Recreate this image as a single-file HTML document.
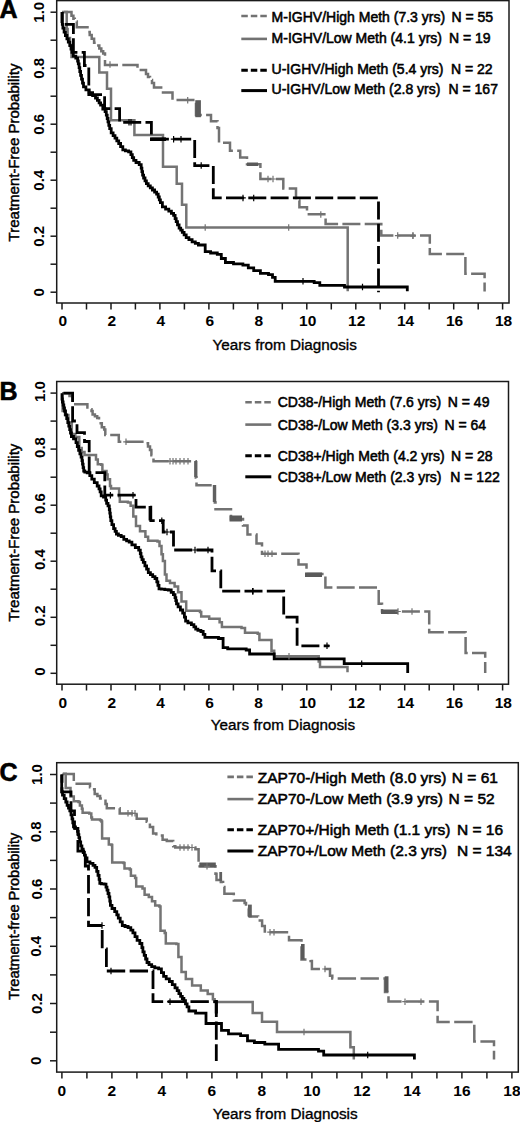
<!DOCTYPE html>
<html><head><meta charset="utf-8"><title>Kaplan-Meier</title>
<style>html,body{margin:0;padding:0;background:#fff;}svg{display:block;}</style></head>
<body><svg width="520" height="1122" viewBox="0 0 520 1122">
<rect width="520" height="1122" fill="#fff"/>
<path d="M62,12 H71.5 V15.8 H73.4 V18.7 H74.8 V21.5 H76.8 V27.3 H87.5 V32.1 H89.7 V35 H91.7 V38.8 H94.1 V42.7 H96.5 V45.6 H99.3 V48.5 H101.3 V51.3 H103.2 V53.5 H105 V65 H137.5 V70 H146 V74 H148 V77 H150 V80 H152 V83 H154 V87.5 H163 V92.5 H172.5 V100 H196 V115 H211 V121.2 H217.5 V128 H219 V142.7 H230 V150.8 H240.2 V157.5 H247 V164.2 H260.4 V179 H283.3 V188.5 H296 V200.6 H299.4 V207.3 H307 V214.2 H325.6 V224 H381.3 V235.6 H429.8 V254 H465.4 V273.7 H484.6 V291.5" fill="none" stroke="#727272" stroke-width="2.5" stroke-dasharray="18 4.3" stroke-dashoffset="20.5" stroke-linejoin="miter" stroke-linecap="butt"/>
<path d="M62,12 H66.7 V29 H67.6 V38 H70 V45 H71.5 V57.1 H99.3 V72.5 H107 V88.8 H111 V120.2 H134.4 V135 H163 V166.7 H176.7 V183.7 H182 V204.8 H186.3 V227.5 H347.7 V291.3" fill="none" stroke="#747474" stroke-width="2.5" stroke-linejoin="miter"/>
<path d="M62,12 V24.4 H73.4 V52.3 H84.4 V65.5 H88.8 V94.6 H104.6 V108.6 H119.6 V122.3 H151.4 V139.2 H194.7 V165.6 H213.3 V197.9 H378.5 V292.3" fill="none" stroke="#000" stroke-width="2.8" stroke-dasharray="18 4.3" stroke-dashoffset="6.9" stroke-linejoin="miter"/>
<path d="M62.3,11.9 H62.3 V15.0 H62.3 V18.1 H62.3 V21.3 H62.3 V24.4 H62.3 H62.9 V28.2 H64.1 V32.1 H64.7 H65.4 V35.5 H66.9 V38.8 H67.6 H68.3 V42.2 H69.8 V45.6 H70.5 H71.0 V49.0 H71.9 V52.3 H72.4 H73.3 V56.2 H74.3 H75.8 V58.1 H77.2 H77.6 V61.0 H78.3 V63.8 H78.7 H79.1 V67.7 H79.8 V71.5 H80.1 H80.6 V75.3 H81.5 V79.2 H82.0 H82.5 V83.1 H83.5 V86.9 H84.0 H85.9 V89.8 H87.8 H89.2 V92.7 H90.7 H92.6 V95.6 H94.5 H95.5 V98.0 H97.4 V100.4 H98.4 H99.1 V102.8 H100.6 V105.2 H101.3 H102.8 V109.0 H104.2 H105.1 V111.7 H105.9 H106.3 V115.1 H107.2 V118.5 H108.0 V121.9 H108.8 V125.3 H109.7 V128.7 H110.1 H111.2 V132.9 H112.2 H113.1 V135.6 H115.0 V138.2 H116.8 V140.8 H118.7 V143.5 H119.6 H120.6 V146.7 H122.8 V149.8 H123.8 H125.4 V150.9 H128.6 V151.9 H130.2 H130.9 V154.7 H132.3 V157.6 H133.7 V160.4 H134.4 H136.0 V162.5 H139.2 V164.6 H140.8 H141.2 V168.1 H141.9 V171.7 H142.6 V175.2 H142.9 H143.6 V178.0 H145.0 V180.9 H146.4 V183.7 H147.1 H148.2 V185.8 H150.3 V187.9 H152.4 V190.0 H153.5 H154.6 V192.1 H156.6 V194.2 H157.7 H158.2 V197.0 H159.3 V199.9 H160.4 V202.7 H160.9 H162.4 V206.9 H164.0 H165.6 V209.1 H168.8 V211.2 H170.4 H171.4 V213.3 H173.6 V215.4 H174.6 H175.1 V218.6 H176.2 V221.7 H176.7 H177.5 V224.9 H179.1 V228.1 H179.9 H180.7 V230.2 H182.3 V232.3 H183.1 H184.1 V234.9 H186.2 V237.6 H187.3 H188.9 V239.7 H192.1 V241.8 H193.7 H195.3 V243.4 H198.4 V245.0 H200.0  H205.2 V251.7 H210.6 V253.0 H217.3 V254.4 H221.3 V258.5 H225.4 V262.5 H233.5 V263.9 H242.9 V265.2 H248.3 V267.9 H253.7 V270.6 H260.4 V273.3 H268.5 V274.6 H272.5 V277.3 H275.2 V281.4 H314.2 V282.7 H319.8 V285.4 H344.5 V287.0 H407.3 V287.0 H407.3 V291.3" fill="none" stroke="#000" stroke-width="2.8" stroke-linejoin="miter"/>
<rect x="195.3" y="100.2" width="5.6" height="17" fill="#5a5a5a"/>
<rect x="247" y="162.5" width="11" height="3.5" fill="#5a5a5a"/>
<rect x="150" y="137.4" width="16" height="3.6" fill="#000"/>
<path d="M110.0,61.3 V67.8 M107.2,64.6 H112.8" stroke="#727272" stroke-width="1.2" fill="none"/>
<path d="M187.7,97.0 V103.5 M184.9,100.2 H190.4" stroke="#727272" stroke-width="1.2" fill="none"/>
<path d="M205.2,224.2 V230.8 M202.4,227.5 H207.9" stroke="#727272" stroke-width="1.2" fill="none"/>
<path d="M288.7,224.2 V230.8 M285.9,227.5 H291.4" stroke="#727272" stroke-width="1.2" fill="none"/>
<path d="M268.0,175.8 V182.2 M265.2,179.0 H270.8" stroke="#727272" stroke-width="1.2" fill="none"/>
<path d="M273.0,175.8 V182.2 M270.2,179.0 H275.8" stroke="#727272" stroke-width="1.2" fill="none"/>
<path d="M320.8,211.2 V217.7 M318.1,214.4 H323.6" stroke="#727272" stroke-width="1.2" fill="none"/>
<path d="M397.7,232.3 V238.8 M394.9,235.6 H400.4" stroke="#727272" stroke-width="1.2" fill="none"/>
<path d="M413.0,232.3 V238.8 M410.2,235.6 H415.8" stroke="#727272" stroke-width="1.2" fill="none"/>
<path d="M412.9,232.6 V239.1 M410.1,235.8 H415.6" stroke="#727272" stroke-width="1.2" fill="none"/>
<path d="M129.0,119.0 V125.5 M126.2,122.3 H131.8" stroke="#000" stroke-width="1.2" fill="none"/>
<path d="M131.0,119.0 V125.5 M128.2,122.3 H133.8" stroke="#000" stroke-width="1.2" fill="none"/>
<path d="M173.6,135.9 V142.4 M170.8,139.2 H176.3" stroke="#000" stroke-width="1.2" fill="none"/>
<path d="M181.0,135.9 V142.4 M178.2,139.2 H183.8" stroke="#000" stroke-width="1.2" fill="none"/>
<path d="M243.0,194.7 V201.2 M240.2,197.9 H245.8" stroke="#000" stroke-width="1.2" fill="none"/>
<path d="M253.7,194.7 V201.2 M250.9,197.9 H256.4" stroke="#000" stroke-width="1.2" fill="none"/>
<path d="M201.2,162.3 V168.8 M198.4,165.6 H203.9" stroke="#000" stroke-width="1.2" fill="none"/>
<path d="M303.0,278.1 V284.6 M300.2,281.4 H305.8" stroke="#000" stroke-width="1.2" fill="none"/>
<path d="M362.5,283.8 V290.2 M359.8,287.0 H365.2" stroke="#000" stroke-width="1.2" fill="none"/>
<rect x="56.7" y="0.6" width="452.3" height="302.4" fill="none" stroke="#1a1a1a" stroke-width="1.5"/>
<line x1="50.5" y1="292.2" x2="56.7" y2="292.2" stroke="#1a1a1a" stroke-width="1.5"/>
<line x1="50.5" y1="264.2" x2="56.7" y2="264.2" stroke="#1a1a1a" stroke-width="1.5"/>
<line x1="50.5" y1="236.2" x2="56.7" y2="236.2" stroke="#1a1a1a" stroke-width="1.5"/>
<line x1="50.5" y1="208.2" x2="56.7" y2="208.2" stroke="#1a1a1a" stroke-width="1.5"/>
<line x1="50.5" y1="180.2" x2="56.7" y2="180.2" stroke="#1a1a1a" stroke-width="1.5"/>
<line x1="50.5" y1="152.2" x2="56.7" y2="152.2" stroke="#1a1a1a" stroke-width="1.5"/>
<line x1="50.5" y1="124.2" x2="56.7" y2="124.2" stroke="#1a1a1a" stroke-width="1.5"/>
<line x1="50.5" y1="96.2" x2="56.7" y2="96.2" stroke="#1a1a1a" stroke-width="1.5"/>
<line x1="50.5" y1="68.2" x2="56.7" y2="68.2" stroke="#1a1a1a" stroke-width="1.5"/>
<line x1="50.5" y1="40.2" x2="56.7" y2="40.2" stroke="#1a1a1a" stroke-width="1.5"/>
<line x1="50.5" y1="12.2" x2="56.7" y2="12.2" stroke="#1a1a1a" stroke-width="1.5"/>
<text x="44.3" y="292.2" transform="rotate(-90 44.3 292.2)" text-anchor="middle" font-family="'Liberation Sans', sans-serif" font-weight="bold" font-size="15">0</text>
<text x="44.3" y="236.2" transform="rotate(-90 44.3 236.2)" text-anchor="middle" font-family="'Liberation Sans', sans-serif" font-weight="bold" font-size="15">0.2</text>
<text x="44.3" y="180.2" transform="rotate(-90 44.3 180.2)" text-anchor="middle" font-family="'Liberation Sans', sans-serif" font-weight="bold" font-size="15">0.4</text>
<text x="44.3" y="124.2" transform="rotate(-90 44.3 124.2)" text-anchor="middle" font-family="'Liberation Sans', sans-serif" font-weight="bold" font-size="15">0.6</text>
<text x="44.3" y="68.2" transform="rotate(-90 44.3 68.2)" text-anchor="middle" font-family="'Liberation Sans', sans-serif" font-weight="bold" font-size="15">0.8</text>
<text x="44.3" y="12.2" transform="rotate(-90 44.3 12.2)" text-anchor="middle" font-family="'Liberation Sans', sans-serif" font-weight="bold" font-size="15">1.0</text>
<line x1="62.0" y1="303" x2="62.0" y2="309.5" stroke="#1a1a1a" stroke-width="1.5"/>
<line x1="86.5" y1="303" x2="86.5" y2="309.5" stroke="#1a1a1a" stroke-width="1.5"/>
<line x1="111.0" y1="303" x2="111.0" y2="309.5" stroke="#1a1a1a" stroke-width="1.5"/>
<line x1="135.4" y1="303" x2="135.4" y2="309.5" stroke="#1a1a1a" stroke-width="1.5"/>
<line x1="159.9" y1="303" x2="159.9" y2="309.5" stroke="#1a1a1a" stroke-width="1.5"/>
<line x1="184.4" y1="303" x2="184.4" y2="309.5" stroke="#1a1a1a" stroke-width="1.5"/>
<line x1="208.9" y1="303" x2="208.9" y2="309.5" stroke="#1a1a1a" stroke-width="1.5"/>
<line x1="233.4" y1="303" x2="233.4" y2="309.5" stroke="#1a1a1a" stroke-width="1.5"/>
<line x1="257.8" y1="303" x2="257.8" y2="309.5" stroke="#1a1a1a" stroke-width="1.5"/>
<line x1="282.3" y1="303" x2="282.3" y2="309.5" stroke="#1a1a1a" stroke-width="1.5"/>
<line x1="306.8" y1="303" x2="306.8" y2="309.5" stroke="#1a1a1a" stroke-width="1.5"/>
<line x1="331.3" y1="303" x2="331.3" y2="309.5" stroke="#1a1a1a" stroke-width="1.5"/>
<line x1="355.8" y1="303" x2="355.8" y2="309.5" stroke="#1a1a1a" stroke-width="1.5"/>
<line x1="380.2" y1="303" x2="380.2" y2="309.5" stroke="#1a1a1a" stroke-width="1.5"/>
<line x1="404.7" y1="303" x2="404.7" y2="309.5" stroke="#1a1a1a" stroke-width="1.5"/>
<line x1="429.2" y1="303" x2="429.2" y2="309.5" stroke="#1a1a1a" stroke-width="1.5"/>
<line x1="453.7" y1="303" x2="453.7" y2="309.5" stroke="#1a1a1a" stroke-width="1.5"/>
<line x1="478.2" y1="303" x2="478.2" y2="309.5" stroke="#1a1a1a" stroke-width="1.5"/>
<line x1="502.6" y1="303" x2="502.6" y2="309.5" stroke="#1a1a1a" stroke-width="1.5"/>
<text x="62.9" y="326.2" text-anchor="middle" font-family="'Liberation Sans', sans-serif" font-weight="bold" font-size="15.5">0</text>
<text x="111.9" y="326.2" text-anchor="middle" font-family="'Liberation Sans', sans-serif" font-weight="bold" font-size="15.5">2</text>
<text x="160.8" y="326.2" text-anchor="middle" font-family="'Liberation Sans', sans-serif" font-weight="bold" font-size="15.5">4</text>
<text x="209.8" y="326.2" text-anchor="middle" font-family="'Liberation Sans', sans-serif" font-weight="bold" font-size="15.5">6</text>
<text x="258.7" y="326.2" text-anchor="middle" font-family="'Liberation Sans', sans-serif" font-weight="bold" font-size="15.5">8</text>
<text x="307.7" y="326.2" text-anchor="middle" font-family="'Liberation Sans', sans-serif" font-weight="bold" font-size="15.5">10</text>
<text x="356.7" y="326.2" text-anchor="middle" font-family="'Liberation Sans', sans-serif" font-weight="bold" font-size="15.5">12</text>
<text x="405.6" y="326.2" text-anchor="middle" font-family="'Liberation Sans', sans-serif" font-weight="bold" font-size="15.5">14</text>
<text x="454.6" y="326.2" text-anchor="middle" font-family="'Liberation Sans', sans-serif" font-weight="bold" font-size="15.5">16</text>
<text x="503.5" y="326.2" text-anchor="middle" font-family="'Liberation Sans', sans-serif" font-weight="bold" font-size="15.5">18</text>
<text x="284.7" y="349.6" text-anchor="middle" font-family="'Liberation Sans', sans-serif" font-size="15.25" stroke="#000" stroke-width="0.35">Years from Diagnosis</text>
<text x="18.8" y="152.5" transform="rotate(-90 18.8 152.5)" text-anchor="middle" font-family="'Liberation Sans', sans-serif" font-size="15" stroke="#000" stroke-width="0.45">Treatment-Free Probability</text>
<text x="-0.5" y="17.8" font-family="'Liberation Sans', sans-serif" font-weight="bold" font-size="25" stroke="#000" stroke-width="0.6">A</text>
<line x1="241.3" y1="16" x2="267" y2="16" stroke="#727272" stroke-width="2.6" stroke-dasharray="6.5 3"/>
<text x="271.6" y="21.7" font-family="'Liberation Sans', sans-serif" font-size="14" stroke="#000" stroke-width="0.55">M-IGHV/High Meth (7.3 yrs)</text>
<text x="451.5" y="21.7" font-family="'Liberation Sans', sans-serif" font-size="14" stroke="#000" stroke-width="0.55">N = 55</text>
<line x1="241.3" y1="38.9" x2="267" y2="38.9" stroke="#727272" stroke-width="2.6"/>
<text x="271.6" y="42.5" font-family="'Liberation Sans', sans-serif" font-size="14" stroke="#000" stroke-width="0.55">M-IGHV/Low Meth (4.1 yrs)</text>
<text x="449" y="42.5" font-family="'Liberation Sans', sans-serif" font-size="14" stroke="#000" stroke-width="0.55">N = 19</text>
<line x1="241.3" y1="70.3" x2="267" y2="70.3" stroke="#000" stroke-width="3.0" stroke-dasharray="6.5 3"/>
<text x="271.6" y="73.5" font-family="'Liberation Sans', sans-serif" font-size="14" stroke="#000" stroke-width="0.55">U-IGHV/High Meth (5.4 yrs)</text>
<text x="451" y="73.5" font-family="'Liberation Sans', sans-serif" font-size="14" stroke="#000" stroke-width="0.55">N = 22</text>
<line x1="241.3" y1="90.6" x2="267" y2="90.6" stroke="#000" stroke-width="3.0"/>
<text x="271.6" y="94" font-family="'Liberation Sans', sans-serif" font-size="14" stroke="#000" stroke-width="0.55">U-IGHV/Low Meth (2.8 yrs)</text>
<text x="448.5" y="94" font-family="'Liberation Sans', sans-serif" font-size="14" stroke="#000" stroke-width="0.55">N = 167</text>
<path d="M62,393.2 H69.5 V396 H72.5 V404.2 H87.4 V407.6 H89.2 V409.3 H91.5 V411 H92.6 V414.5 H94.9 V416.3 H97.2 V418 H99 V421.5 H100.7 V423.2 H101.8 V427.2 H104.2 V429.5 H105.3 V434.9 H118.8 V441.8 H146 V443.2 H148 V446.5 H150 V449.9 H151.4 V455.3 H153.5 V461.2 H195.8 V477.5 H196.5 V485.2 H214.8 V502.5 H215.5 V509.2 H231 V519 H243 V525.6 H247.5 V534.5 H256.5 V543.5 H262 V553.8 H298.5 V564.6 H306.5 V574 H325.4 V587.5 H378.7 V603.7 H382 V611.5 H429.2 V632.2 H465.6 V652.9 H485.2 V673.1" fill="none" stroke="#727272" stroke-width="2.5" stroke-dasharray="18 4.3" stroke-dashoffset="21.6" stroke-linejoin="miter" stroke-linecap="butt"/>
<path d="M62.0,393.2 H62.6 V395.0 H62.6 V411.0 H65.0 V415.0 H68.4 V422.6 H71.8 V434.0 H75.3 V437.0 H79.3 V448.0 H81.7 V452.0 H84.5 V455.0 H94.9 V455.0 H96.0 V459.5 H97.8 V464.2 H101.3 V464.7 H102.4 V471.0 H106.5 V474.5 H107.6 V479.2 H110.0 V486.0 H111.0 V488.4 H118.8 V488.4 H119.1 V496.3 H119.8 V501.7 H127.9 V502.4 H130.6 V505.8 H133.3 V516.5 H136.0 V526.0 H140.0 V531.3 H145.4 V536.7 H148.1 V540.7 H157.5 V541.4 H159.5 V546.1 H161.5 V554.2 H162.9 V561.0 H164.9 V574.4 H166.5 V580.8 H170.0 V583.1 H174.6 V586.5 H178.1 V592.3 H181.5 V601.5 H186.2 V610.8 H200.0 V611.9 H201.2 V616.5 H209.2 V618.8 H219.6 V622.3 H221.9 V626.9 H241.5 V628.1 H245.0 V632.7 H257.7 V633.8 H259.4 V640.0 H271.5 V650.8 H274.2 V656.2 H318.7 V661.5 H320.0 V667.0 H347.5 V667.0 H347.5 V672.3" fill="none" stroke="#747474" stroke-width="2.5" stroke-linejoin="miter"/>
<path d="M62,393.2 H72.6 V421 H77 V432.6 H84.5 V441.5 H89.2 V472.6 H104.8 V495.2 H136 V507.2 H150.8 V520.6 H163.2 V532 H173.5 V550 H212 V570.8 H220.8 V591.2 H283.7 V617.1 H297.1 V645.8 H329.4" fill="none" stroke="#000" stroke-width="2.8" stroke-dasharray="18 4.3" stroke-dashoffset="20.9" stroke-linejoin="miter"/>
<path d="M62.0,393.2 H62.0 V396.1 H62.0 V399.0 H62.0 H62.4 V402.0 H63.1 V405.0 H63.8 V408.0 H64.5 V411.0 H64.9 H65.5 V414.9 H66.7 V418.7 H67.8 V422.6 H68.4 H68.8 V426.1 H69.7 V429.6 H70.5 V433.0 H71.4 V436.5 H71.8 H73.5 V438.8 H75.3 H76.0 V442.6 H77.3 V446.5 H78.6 V450.3 H79.3 H79.9 V453.8 H81.1 V457.2 H81.7 H82.0 V460.7 H82.5 V464.2 H82.8 H83.1 V467.6 H83.7 V471.0 H84.0 H84.8 V472.2 H85.7 H87.2 V472.8 H88.6 H89.8 V475.7 H90.9 H91.8 V479.2 H92.6 H94.3 V482.6 H96.1 H97.2 V486.0 H98.4 H99.0 V488.9 H100.1 V491.8 H100.7 H101.2 V495.9 H101.8 H103.5 V497.0 H105.3 H105.7 V500.2 H106.6 V503.4 H107.0 H108.0 V505.8 H109.0 H109.3 V509.5 H109.8 V513.2 H110.3 V516.9 H110.8 V520.6 H111.1 H111.9 V524.6 H113.6 V528.6 H114.4 H115.1 V531.3 H116.4 V534.0 H117.1 H118.4 V535.4 H121.2 V536.7 H122.5 H123.8 V539.4 H125.2 H126.6 V540.8 H129.2 V542.1 H130.6 H131.9 V544.8 H133.3 H135.3 V547.5 H137.3 H138.7 V550.2 H140.0 H140.3 V553.5 H141.0 V556.9 H141.3 H142.0 V559.6 H143.3 V562.3 H144.0 H144.9 V565.8 H146.6 V569.2 H148.3 V572.7 H149.2 H150.4 V574.6 H152.7 V576.6 H155.0 V578.5 H156.2 H156.8 V581.9 H157.9 V585.4 H159.0 V588.8 H159.6 H161.3 V589.2 H164.8 V589.6 H168.3 V590.0 H170.0 H171.2 V592.3 H173.4 V594.6 H174.6 H175.0 V597.7 H175.8 V600.7 H176.5 V603.8 H176.9 H178.1 V606.9 H180.4 V610.0 H182.7 V613.1 H183.8 H184.4 V617.2 H185.6 V621.2 H186.2 H187.9 V622.9 H191.4 V624.6 H193.1 H193.9 V626.9 H195.7 V629.2 H196.5 H197.9 V630.4 H200.9 V631.5 H202.3 H203.2 V634.4 H204.9 V637.3 H205.8 H218.5 V638.5 H223.1 V647.7 H227.7 V648.8 H246.2 V650.0 H249.6 V654.0 H274.2 V658.9 H344.2 V663.7 H407.7 V663.7 H407.7 V673.1" fill="none" stroke="#000" stroke-width="2.8" stroke-linejoin="miter"/>
<rect x="148.6" y="506" width="3" height="14.5" fill="#000"/>
<rect x="229.5" y="515.5" width="12.5" height="6" fill="#5a5a5a"/>
<rect x="305" y="572.5" width="17" height="4.5" fill="#5a5a5a"/>
<rect x="381" y="609.5" width="17" height="4.5" fill="#5a5a5a"/>
<rect x="194.2" y="461" width="3.2" height="16" fill="#606060"/>
<rect x="212.8" y="485" width="3.4" height="17" fill="#606060"/>
<path d="M289.0,653.0 V659.5 M286.2,656.2 H291.8" stroke="#727272" stroke-width="1.2" fill="none"/>
<path d="M126.0,438.6 V445.1 M123.2,441.8 H128.8" stroke="#727272" stroke-width="1.2" fill="none"/>
<path d="M170.0,457.9 V464.4 M167.2,461.2 H172.8" stroke="#727272" stroke-width="1.2" fill="none"/>
<path d="M176.0,457.9 V464.4 M173.2,461.2 H178.8" stroke="#727272" stroke-width="1.2" fill="none"/>
<path d="M180.0,457.9 V464.4 M177.2,461.2 H182.8" stroke="#727272" stroke-width="1.2" fill="none"/>
<path d="M184.0,457.9 V464.4 M181.2,461.2 H186.8" stroke="#727272" stroke-width="1.2" fill="none"/>
<path d="M188.0,457.9 V464.4 M185.2,461.2 H190.8" stroke="#727272" stroke-width="1.2" fill="none"/>
<path d="M265.0,550.5 V557.0 M262.2,553.8 H267.8" stroke="#727272" stroke-width="1.2" fill="none"/>
<path d="M268.0,550.5 V557.0 M265.2,553.8 H270.8" stroke="#727272" stroke-width="1.2" fill="none"/>
<path d="M272.0,550.5 V557.0 M269.2,553.8 H274.8" stroke="#727272" stroke-width="1.2" fill="none"/>
<path d="M398.0,608.2 V614.8 M395.2,611.5 H400.8" stroke="#727272" stroke-width="1.2" fill="none"/>
<path d="M412.0,608.2 V614.8 M409.2,611.5 H414.8" stroke="#727272" stroke-width="1.2" fill="none"/>
<path d="M173.0,457.9 V464.4 M170.2,461.2 H175.8" stroke="#727272" stroke-width="1.2" fill="none"/>
<path d="M161.8,517.4 V523.9 M159.1,520.6 H164.6" stroke="#000" stroke-width="1.2" fill="none"/>
<path d="M167.0,528.8 V535.2 M164.2,532.0 H169.8" stroke="#000" stroke-width="1.2" fill="none"/>
<path d="M110.4,491.9 V498.4 M107.7,495.2 H113.2" stroke="#000" stroke-width="1.2" fill="none"/>
<path d="M133.0,491.9 V498.4 M130.2,495.2 H135.8" stroke="#000" stroke-width="1.2" fill="none"/>
<path d="M195.0,546.8 V553.2 M192.2,550.0 H197.8" stroke="#000" stroke-width="1.2" fill="none"/>
<path d="M208.0,546.8 V553.2 M205.2,550.0 H210.8" stroke="#000" stroke-width="1.2" fill="none"/>
<path d="M253.0,588.0 V594.5 M250.2,591.2 H255.8" stroke="#000" stroke-width="1.2" fill="none"/>
<path d="M252.6,588.0 V594.5 M249.8,591.2 H255.3" stroke="#000" stroke-width="1.2" fill="none"/>
<path d="M327.0,642.5 V649.0 M324.2,645.8 H329.8" stroke="#000" stroke-width="1.2" fill="none"/>
<path d="M361.7,660.5 V667.0 M358.9,663.7 H364.4" stroke="#000" stroke-width="1.2" fill="none"/>
<rect x="56.7" y="381.5" width="451.8" height="302.70000000000005" fill="none" stroke="#1a1a1a" stroke-width="1.5"/>
<line x1="50.5" y1="673.3" x2="56.7" y2="673.3" stroke="#1a1a1a" stroke-width="1.5"/>
<line x1="50.5" y1="645.3" x2="56.7" y2="645.3" stroke="#1a1a1a" stroke-width="1.5"/>
<line x1="50.5" y1="617.3" x2="56.7" y2="617.3" stroke="#1a1a1a" stroke-width="1.5"/>
<line x1="50.5" y1="589.2" x2="56.7" y2="589.2" stroke="#1a1a1a" stroke-width="1.5"/>
<line x1="50.5" y1="561.2" x2="56.7" y2="561.2" stroke="#1a1a1a" stroke-width="1.5"/>
<line x1="50.5" y1="533.2" x2="56.7" y2="533.2" stroke="#1a1a1a" stroke-width="1.5"/>
<line x1="50.5" y1="505.2" x2="56.7" y2="505.2" stroke="#1a1a1a" stroke-width="1.5"/>
<line x1="50.5" y1="477.2" x2="56.7" y2="477.2" stroke="#1a1a1a" stroke-width="1.5"/>
<line x1="50.5" y1="449.1" x2="56.7" y2="449.1" stroke="#1a1a1a" stroke-width="1.5"/>
<line x1="50.5" y1="421.1" x2="56.7" y2="421.1" stroke="#1a1a1a" stroke-width="1.5"/>
<line x1="50.5" y1="393.1" x2="56.7" y2="393.1" stroke="#1a1a1a" stroke-width="1.5"/>
<text x="45.0" y="671.7" transform="rotate(-90 45.0 671.7)" text-anchor="middle" font-family="'Liberation Sans', sans-serif" font-weight="bold" font-size="15">0</text>
<text x="45.0" y="615.7" transform="rotate(-90 45.0 615.7)" text-anchor="middle" font-family="'Liberation Sans', sans-serif" font-weight="bold" font-size="15">0.2</text>
<text x="45.0" y="559.6" transform="rotate(-90 45.0 559.6)" text-anchor="middle" font-family="'Liberation Sans', sans-serif" font-weight="bold" font-size="15">0.4</text>
<text x="45.0" y="503.6" transform="rotate(-90 45.0 503.6)" text-anchor="middle" font-family="'Liberation Sans', sans-serif" font-weight="bold" font-size="15">0.6</text>
<text x="45.0" y="447.5" transform="rotate(-90 45.0 447.5)" text-anchor="middle" font-family="'Liberation Sans', sans-serif" font-weight="bold" font-size="15">0.8</text>
<text x="45.0" y="391.5" transform="rotate(-90 45.0 391.5)" text-anchor="middle" font-family="'Liberation Sans', sans-serif" font-weight="bold" font-size="15">1.0</text>
<line x1="62.0" y1="684.2" x2="62.0" y2="690.5" stroke="#1a1a1a" stroke-width="1.5"/>
<line x1="86.5" y1="684.2" x2="86.5" y2="690.5" stroke="#1a1a1a" stroke-width="1.5"/>
<line x1="111.0" y1="684.2" x2="111.0" y2="690.5" stroke="#1a1a1a" stroke-width="1.5"/>
<line x1="135.4" y1="684.2" x2="135.4" y2="690.5" stroke="#1a1a1a" stroke-width="1.5"/>
<line x1="159.9" y1="684.2" x2="159.9" y2="690.5" stroke="#1a1a1a" stroke-width="1.5"/>
<line x1="184.4" y1="684.2" x2="184.4" y2="690.5" stroke="#1a1a1a" stroke-width="1.5"/>
<line x1="208.9" y1="684.2" x2="208.9" y2="690.5" stroke="#1a1a1a" stroke-width="1.5"/>
<line x1="233.4" y1="684.2" x2="233.4" y2="690.5" stroke="#1a1a1a" stroke-width="1.5"/>
<line x1="257.8" y1="684.2" x2="257.8" y2="690.5" stroke="#1a1a1a" stroke-width="1.5"/>
<line x1="282.3" y1="684.2" x2="282.3" y2="690.5" stroke="#1a1a1a" stroke-width="1.5"/>
<line x1="306.8" y1="684.2" x2="306.8" y2="690.5" stroke="#1a1a1a" stroke-width="1.5"/>
<line x1="331.3" y1="684.2" x2="331.3" y2="690.5" stroke="#1a1a1a" stroke-width="1.5"/>
<line x1="355.8" y1="684.2" x2="355.8" y2="690.5" stroke="#1a1a1a" stroke-width="1.5"/>
<line x1="380.2" y1="684.2" x2="380.2" y2="690.5" stroke="#1a1a1a" stroke-width="1.5"/>
<line x1="404.7" y1="684.2" x2="404.7" y2="690.5" stroke="#1a1a1a" stroke-width="1.5"/>
<line x1="429.2" y1="684.2" x2="429.2" y2="690.5" stroke="#1a1a1a" stroke-width="1.5"/>
<line x1="453.7" y1="684.2" x2="453.7" y2="690.5" stroke="#1a1a1a" stroke-width="1.5"/>
<line x1="478.2" y1="684.2" x2="478.2" y2="690.5" stroke="#1a1a1a" stroke-width="1.5"/>
<line x1="502.6" y1="684.2" x2="502.6" y2="690.5" stroke="#1a1a1a" stroke-width="1.5"/>
<text x="62.7" y="707.6" text-anchor="middle" font-family="'Liberation Sans', sans-serif" font-weight="bold" font-size="15.5">0</text>
<text x="111.7" y="707.6" text-anchor="middle" font-family="'Liberation Sans', sans-serif" font-weight="bold" font-size="15.5">2</text>
<text x="160.6" y="707.6" text-anchor="middle" font-family="'Liberation Sans', sans-serif" font-weight="bold" font-size="15.5">4</text>
<text x="209.6" y="707.6" text-anchor="middle" font-family="'Liberation Sans', sans-serif" font-weight="bold" font-size="15.5">6</text>
<text x="258.5" y="707.6" text-anchor="middle" font-family="'Liberation Sans', sans-serif" font-weight="bold" font-size="15.5">8</text>
<text x="307.5" y="707.6" text-anchor="middle" font-family="'Liberation Sans', sans-serif" font-weight="bold" font-size="15.5">10</text>
<text x="356.5" y="707.6" text-anchor="middle" font-family="'Liberation Sans', sans-serif" font-weight="bold" font-size="15.5">12</text>
<text x="405.4" y="707.6" text-anchor="middle" font-family="'Liberation Sans', sans-serif" font-weight="bold" font-size="15.5">14</text>
<text x="454.4" y="707.6" text-anchor="middle" font-family="'Liberation Sans', sans-serif" font-weight="bold" font-size="15.5">16</text>
<text x="503.3" y="707.6" text-anchor="middle" font-family="'Liberation Sans', sans-serif" font-weight="bold" font-size="15.5">18</text>
<text x="282.9" y="729.5" text-anchor="middle" font-family="'Liberation Sans', sans-serif" font-size="15.25" stroke="#000" stroke-width="0.35">Years from Diagnosis</text>
<text x="18.8" y="532.6" transform="rotate(-90 18.8 532.6)" text-anchor="middle" font-family="'Liberation Sans', sans-serif" font-size="15" stroke="#000" stroke-width="0.45">Treatment-Free Probability</text>
<text x="-0.5" y="399.6" font-family="'Liberation Sans', sans-serif" font-weight="bold" font-size="25" stroke="#000" stroke-width="0.6">B</text>
<line x1="245.3" y1="402.3" x2="271.3" y2="402.3" stroke="#727272" stroke-width="2.6" stroke-dasharray="6.5 3"/>
<text x="277.7" y="406.8" font-family="'Liberation Sans', sans-serif" font-size="14" stroke="#000" stroke-width="0.55">CD38-/High Meth (7.6 yrs)</text>
<text x="447.8" y="406.8" font-family="'Liberation Sans', sans-serif" font-size="14" stroke="#000" stroke-width="0.55">N = 49</text>
<line x1="245.3" y1="424.6" x2="271.3" y2="424.6" stroke="#727272" stroke-width="2.6"/>
<text x="277.7" y="429.6" font-family="'Liberation Sans', sans-serif" font-size="14" stroke="#000" stroke-width="0.55">CD38-/Low Meth (3.3 yrs)</text>
<text x="444.5" y="429.6" font-family="'Liberation Sans', sans-serif" font-size="14" stroke="#000" stroke-width="0.55">N = 64</text>
<line x1="245.3" y1="455.8" x2="271.3" y2="455.8" stroke="#000" stroke-width="3.0" stroke-dasharray="6.5 3"/>
<text x="277.7" y="460.7" font-family="'Liberation Sans', sans-serif" font-size="14" stroke="#000" stroke-width="0.55">CD38+/High Meth (4.2 yrs)</text>
<text x="451" y="460.7" font-family="'Liberation Sans', sans-serif" font-size="14" stroke="#000" stroke-width="0.55">N = 28</text>
<line x1="245.3" y1="476.8" x2="271.3" y2="476.8" stroke="#000" stroke-width="3.0"/>
<text x="277.7" y="481.6" font-family="'Liberation Sans', sans-serif" font-size="14" stroke="#000" stroke-width="0.55">CD38+/Low Meth (2.3 yrs)</text>
<text x="450.3" y="481.6" font-family="'Liberation Sans', sans-serif" font-size="14" stroke="#000" stroke-width="0.55">N = 122</text>
<path d="M62.4,774 H73.8 V783.8 H90 V787.2 H92.7 V789.2 H94.7 V793.9 H97.4 V796 H100.1 V798.6 H102.8 V800.7 H105.5 V804 H106.8 V808.3 H119.7 V813.4 H136.7 V818.7 H146.7 V821.8 H149.9 V827.1 H153.1 V833.5 H156.3 V835.6 H162.6 V839.8 H166.8 V840.9 H173.2 V846.2 H175.3 V847.5 H195.4 V849.3 H198.6 V862 H199.6 V866.3 H215.5 V873.7 H216.5 V880 H220.8 V882.1 H223.1 V886.9 H224.4 V893.7 H233.8 V900.4 H244.6 V903.1 H246 V908.5 H248.7 V915.2 H250 V916.5 H258.1 V920.6 H262.1 V926 H264.8 V931.4 H266.2 V932.2 H289 V940.2 H301.5 V959.6 H310.6 V961 H311.9 V969 H330 V975.8 H332.3 V978.6 H385 V991.9 H388.5 V1001.6 H437.6 V1022 H474.3 V1041.5 H494 V1059.4" fill="none" stroke="#727272" stroke-width="2.5" stroke-dasharray="18.4 4.45" stroke-dashoffset="0" stroke-linejoin="miter" stroke-linecap="butt"/>
<path d="M63.0,773.7 H65.7 V788.0 H70.5 V796.6 H73.8 V801.3 H78.5 V802.0 H79.9 V805.4 H81.9 V808.7 H82.6 V812.8 H89.3 V813.5 H91.3 V817.5 H92.0 V819.5 H100.1 V820.2 H101.4 V821.5 H102.1 V838.4 H108.1 V838.4 H108.8 V844.4 H111.5 V845.1 H112.2 V862.6 H123.5 V863.1 H124.5 V868.4 H129.8 V869.4 H130.9 V875.8 H135.1 V877.9 H136.2 V886.4 H142.5 V888.5 H144.6 V894.8 H148.8 V896.9 H152.0 V901.2 H155.2 V905.4 H159.4 V906.5 H160.5 V930.8 H164.7 V932.9 H165.8 V943.5 H176.4 V944.0 H178.4 V957.0 H181.5 V972.0 H185.8 V979.0 H192.1 V985.4 H200.8 V990.6 H207.7 V994.0 H212.9 V999.2 H214.6 V1002.0 H252.7 V1013.0 H262.0 V1021.7 H277.0 V1032.1 H350.4 V1047.3 H353.8 V1059.4" fill="none" stroke="#747474" stroke-width="2.5" stroke-linejoin="miter"/>
<path d="M62,774.4 V791.9 H71 V810.8 H74.5 V828.3 H77.9 V851.1 H85.3 V866 H88.5 V925.5 H102.2 V948.8 H106.4 V971 H153 V1001.6 H216.3 V1061" fill="none" stroke="#000" stroke-width="2.8" stroke-dasharray="18.4 4.45" stroke-dashoffset="9.95" stroke-linejoin="miter"/>
<path d="M61.7,774.4 H61.7 V777.9 H61.7 V781.4 H61.7 V784.9 H61.7 V788.4 H61.7 V791.9 H61.7 H62.5 V795.2 H64.2 V798.6 H65.1 H65.8 V802.0 H67.1 V805.4 H67.8 H68.5 V808.1 H69.8 V810.8 H70.5 H71.0 V814.8 H72.0 V818.8 H72.5 H72.8 V822.8 H73.5 V826.9 H73.8 H75.5 V828.3 H77.2 H77.5 V831.4 H78.2 V834.6 H78.9 V837.7 H79.2 H79.7 V841.8 H80.7 V845.8 H81.2 H81.9 V849.1 H83.2 V852.5 H83.9 H84.4 V855.2 H85.4 V857.9 H85.9 H87.0 V861.9 H88.0 H90.0 V863.3 H92.0 H93.0 V865.3 H95.0 V867.3 H96.0 H96.7 V871.3 H98.0 V875.4 H98.7 H99.1 V879.4 H99.8 V883.4 H100.1 H101.4 V883.8 H104.2 V884.1 H105.5 H106.0 V887.2 H107.0 V890.2 H107.5 H108.0 V893.5 H109.0 V896.9 H109.5 H109.8 V901.1 H110.4 V905.4 H110.7 H112.0 V908.5 H114.7 V911.7 H116.0 H116.8 V914.9 H118.3 V918.1 H119.1 H120.2 V921.8 H122.3 V925.5 H123.4 H125.0 V926.5 H128.1 V927.6 H129.7 H130.8 V930.2 H132.9 V932.9 H133.9 H135.0 V936.6 H137.1 V940.3 H138.2 H139.8 V943.5 H141.3 H141.9 V947.7 H142.9 V951.9 H143.5 H144.2 V955.4 H145.6 V959.0 H147.0 V962.5 H147.7 H149.0 V964.6 H151.7 V966.7 H153.0 H154.8 V967.8 H158.6 V968.9 H160.4 H161.4 V972.6 H163.6 V976.3 H164.6 H166.2 V978.9 H169.4 V981.5 H171.0 H172.3 V984.7 H175.0 V987.9 H176.3 H177.2 V990.7 H178.9 V993.6 H180.6 V996.4 H181.5 H182.3 V998.5 H183.9 V1000.6 H184.7 H185.5 V1003.8 H187.1 V1006.9 H187.9 H188.9 V1011.0 H190.0 H195.6 V1013.1 H206.0 V1023.5 H218.1 V1023.5 H221.5 V1030.4 H228.5 V1033.8 H240.6 V1035.6 H247.5 V1040.8 H254.4 V1042.5 H264.8 V1044.2 H278.6 V1049.4 H318.5 V1051.2 H323.7 V1055.0 H414.4 V1055.0 H414.4 V1059.4" fill="none" stroke="#000" stroke-width="2.8" stroke-linejoin="miter"/>
<rect x="199.3" y="862.5" width="16.5" height="5" fill="#5a5a5a"/>
<rect x="301" y="944" width="3.6" height="15.6" fill="#5a5a5a"/>
<rect x="384.7" y="976.3" width="3.8" height="15.6" fill="#5a5a5a"/>
<rect x="248" y="904.6" width="3.8" height="12.7" fill="#606060"/>
<rect x="219.3" y="872" width="2.8" height="9" fill="#606060"/>
<rect x="214.8" y="1000" width="3" height="13.5" fill="#000"/>
<path d="M128.0,810.1 V816.6 M125.2,813.4 H130.8" stroke="#727272" stroke-width="1.2" fill="none"/>
<path d="M132.0,810.1 V816.6 M129.2,813.4 H134.8" stroke="#727272" stroke-width="1.2" fill="none"/>
<path d="M135.0,810.1 V816.6 M132.2,813.4 H137.8" stroke="#727272" stroke-width="1.2" fill="none"/>
<path d="M180.0,844.2 V850.8 M177.2,847.5 H182.8" stroke="#727272" stroke-width="1.2" fill="none"/>
<path d="M184.0,844.2 V850.8 M181.2,847.5 H186.8" stroke="#727272" stroke-width="1.2" fill="none"/>
<path d="M188.0,844.2 V850.8 M185.2,847.5 H190.8" stroke="#727272" stroke-width="1.2" fill="none"/>
<path d="M192.0,844.2 V850.8 M189.2,847.5 H194.8" stroke="#727272" stroke-width="1.2" fill="none"/>
<path d="M270.0,929.0 V935.5 M267.2,932.2 H272.8" stroke="#727272" stroke-width="1.2" fill="none"/>
<path d="M274.0,929.0 V935.5 M271.2,932.2 H276.8" stroke="#727272" stroke-width="1.2" fill="none"/>
<path d="M405.0,998.4 V1004.9 M402.2,1001.6 H407.8" stroke="#727272" stroke-width="1.2" fill="none"/>
<path d="M421.0,998.4 V1004.9 M418.2,1001.6 H423.8" stroke="#727272" stroke-width="1.2" fill="none"/>
<path d="M325.0,965.8 V972.2 M322.2,969.0 H327.8" stroke="#727272" stroke-width="1.2" fill="none"/>
<path d="M304.0,1028.8 V1035.3 M301.2,1032.1 H306.8" stroke="#727272" stroke-width="1.2" fill="none"/>
<path d="M207.0,863.0 V869.5 M204.2,866.3 H209.8" stroke="#727272" stroke-width="1.2" fill="none"/>
<path d="M102.0,922.2 V928.8 M99.2,925.5 H104.8" stroke="#000" stroke-width="1.2" fill="none"/>
<path d="M111.0,967.8 V974.2 M108.2,971.0 H113.8" stroke="#000" stroke-width="1.2" fill="none"/>
<path d="M170.0,998.4 V1004.9 M167.2,1001.6 H172.8" stroke="#000" stroke-width="1.2" fill="none"/>
<path d="M367.7,1051.8 V1058.2 M364.9,1055.0 H370.4" stroke="#000" stroke-width="1.2" fill="none"/>
<rect x="56.7" y="762.7" width="461.59999999999997" height="309.39999999999986" fill="none" stroke="#1a1a1a" stroke-width="1.5"/>
<line x1="50" y1="1060.8" x2="56.7" y2="1060.8" stroke="#1a1a1a" stroke-width="1.5"/>
<line x1="50" y1="1032.2" x2="56.7" y2="1032.2" stroke="#1a1a1a" stroke-width="1.5"/>
<line x1="50" y1="1003.5" x2="56.7" y2="1003.5" stroke="#1a1a1a" stroke-width="1.5"/>
<line x1="50" y1="974.9" x2="56.7" y2="974.9" stroke="#1a1a1a" stroke-width="1.5"/>
<line x1="50" y1="946.3" x2="56.7" y2="946.3" stroke="#1a1a1a" stroke-width="1.5"/>
<line x1="50" y1="917.6" x2="56.7" y2="917.6" stroke="#1a1a1a" stroke-width="1.5"/>
<line x1="50" y1="889.0" x2="56.7" y2="889.0" stroke="#1a1a1a" stroke-width="1.5"/>
<line x1="50" y1="860.4" x2="56.7" y2="860.4" stroke="#1a1a1a" stroke-width="1.5"/>
<line x1="50" y1="831.8" x2="56.7" y2="831.8" stroke="#1a1a1a" stroke-width="1.5"/>
<line x1="50" y1="803.1" x2="56.7" y2="803.1" stroke="#1a1a1a" stroke-width="1.5"/>
<line x1="50" y1="774.5" x2="56.7" y2="774.5" stroke="#1a1a1a" stroke-width="1.5"/>
<text x="41.5" y="1060.8" transform="rotate(-90 41.5 1060.8)" text-anchor="middle" font-family="'Liberation Sans', sans-serif" font-weight="bold" font-size="15">0</text>
<text x="41.5" y="1003.5" transform="rotate(-90 41.5 1003.5)" text-anchor="middle" font-family="'Liberation Sans', sans-serif" font-weight="bold" font-size="15">0.2</text>
<text x="41.5" y="946.3" transform="rotate(-90 41.5 946.3)" text-anchor="middle" font-family="'Liberation Sans', sans-serif" font-weight="bold" font-size="15">0.4</text>
<text x="41.5" y="889.0" transform="rotate(-90 41.5 889.0)" text-anchor="middle" font-family="'Liberation Sans', sans-serif" font-weight="bold" font-size="15">0.6</text>
<text x="41.5" y="831.8" transform="rotate(-90 41.5 831.8)" text-anchor="middle" font-family="'Liberation Sans', sans-serif" font-weight="bold" font-size="15">0.8</text>
<text x="41.5" y="774.5" transform="rotate(-90 41.5 774.5)" text-anchor="middle" font-family="'Liberation Sans', sans-serif" font-weight="bold" font-size="15">1.0</text>
<line x1="61.9" y1="1072.1" x2="61.9" y2="1078.5" stroke="#1a1a1a" stroke-width="1.5"/>
<line x1="86.9" y1="1072.1" x2="86.9" y2="1078.5" stroke="#1a1a1a" stroke-width="1.5"/>
<line x1="111.9" y1="1072.1" x2="111.9" y2="1078.5" stroke="#1a1a1a" stroke-width="1.5"/>
<line x1="136.9" y1="1072.1" x2="136.9" y2="1078.5" stroke="#1a1a1a" stroke-width="1.5"/>
<line x1="161.9" y1="1072.1" x2="161.9" y2="1078.5" stroke="#1a1a1a" stroke-width="1.5"/>
<line x1="186.9" y1="1072.1" x2="186.9" y2="1078.5" stroke="#1a1a1a" stroke-width="1.5"/>
<line x1="211.9" y1="1072.1" x2="211.9" y2="1078.5" stroke="#1a1a1a" stroke-width="1.5"/>
<line x1="236.9" y1="1072.1" x2="236.9" y2="1078.5" stroke="#1a1a1a" stroke-width="1.5"/>
<line x1="261.9" y1="1072.1" x2="261.9" y2="1078.5" stroke="#1a1a1a" stroke-width="1.5"/>
<line x1="286.9" y1="1072.1" x2="286.9" y2="1078.5" stroke="#1a1a1a" stroke-width="1.5"/>
<line x1="311.9" y1="1072.1" x2="311.9" y2="1078.5" stroke="#1a1a1a" stroke-width="1.5"/>
<line x1="336.9" y1="1072.1" x2="336.9" y2="1078.5" stroke="#1a1a1a" stroke-width="1.5"/>
<line x1="361.9" y1="1072.1" x2="361.9" y2="1078.5" stroke="#1a1a1a" stroke-width="1.5"/>
<line x1="386.9" y1="1072.1" x2="386.9" y2="1078.5" stroke="#1a1a1a" stroke-width="1.5"/>
<line x1="411.9" y1="1072.1" x2="411.9" y2="1078.5" stroke="#1a1a1a" stroke-width="1.5"/>
<line x1="436.9" y1="1072.1" x2="436.9" y2="1078.5" stroke="#1a1a1a" stroke-width="1.5"/>
<line x1="461.9" y1="1072.1" x2="461.9" y2="1078.5" stroke="#1a1a1a" stroke-width="1.5"/>
<line x1="486.9" y1="1072.1" x2="486.9" y2="1078.5" stroke="#1a1a1a" stroke-width="1.5"/>
<line x1="511.9" y1="1072.1" x2="511.9" y2="1078.5" stroke="#1a1a1a" stroke-width="1.5"/>
<text x="61.9" y="1095.6" text-anchor="middle" font-family="'Liberation Sans', sans-serif" font-weight="bold" font-size="15.5">0</text>
<text x="111.9" y="1095.6" text-anchor="middle" font-family="'Liberation Sans', sans-serif" font-weight="bold" font-size="15.5">2</text>
<text x="161.9" y="1095.6" text-anchor="middle" font-family="'Liberation Sans', sans-serif" font-weight="bold" font-size="15.5">4</text>
<text x="211.9" y="1095.6" text-anchor="middle" font-family="'Liberation Sans', sans-serif" font-weight="bold" font-size="15.5">6</text>
<text x="261.9" y="1095.6" text-anchor="middle" font-family="'Liberation Sans', sans-serif" font-weight="bold" font-size="15.5">8</text>
<text x="311.9" y="1095.6" text-anchor="middle" font-family="'Liberation Sans', sans-serif" font-weight="bold" font-size="15.5">10</text>
<text x="361.9" y="1095.6" text-anchor="middle" font-family="'Liberation Sans', sans-serif" font-weight="bold" font-size="15.5">12</text>
<text x="411.9" y="1095.6" text-anchor="middle" font-family="'Liberation Sans', sans-serif" font-weight="bold" font-size="15.5">14</text>
<text x="461.9" y="1095.6" text-anchor="middle" font-family="'Liberation Sans', sans-serif" font-weight="bold" font-size="15.5">16</text>
<text x="511.9" y="1095.6" text-anchor="middle" font-family="'Liberation Sans', sans-serif" font-weight="bold" font-size="15.5">18</text>
<text x="285.2" y="1118.9" text-anchor="middle" font-family="'Liberation Sans', sans-serif" font-size="15.3" stroke="#000" stroke-width="0.35">Years from Diagnosis</text>
<text x="18.8" y="916.3" transform="rotate(-90 18.8 916.3)" text-anchor="middle" font-family="'Liberation Sans', sans-serif" font-size="14.5" stroke="#000" stroke-width="0.45">Treatment-free Probability</text>
<text x="-0.5" y="780.5" font-family="'Liberation Sans', sans-serif" font-weight="bold" font-size="25" stroke="#000" stroke-width="0.6">C</text>
<line x1="227.4" y1="776.9" x2="253.4" y2="776.9" stroke="#727272" stroke-width="2.6" stroke-dasharray="6.5 3"/>
<text x="257.8" y="782.8" font-family="'Liberation Sans', sans-serif" font-size="15.5" stroke="#000" stroke-width="0.55">ZAP70-/High Meth (8.0 yrs)</text>
<text x="451.8" y="782.8" font-family="'Liberation Sans', sans-serif" font-size="15.5" stroke="#000" stroke-width="0.55">N = 61</text>
<line x1="227.4" y1="799.1" x2="253.4" y2="799.1" stroke="#727272" stroke-width="2.6"/>
<text x="257.8" y="803.6" font-family="'Liberation Sans', sans-serif" font-size="15.5" stroke="#000" stroke-width="0.55">ZAP70-/Low Meth (3.9 yrs)</text>
<text x="448.6" y="803.6" font-family="'Liberation Sans', sans-serif" font-size="15.5" stroke="#000" stroke-width="0.55">N = 52</text>
<line x1="227.4" y1="829.8" x2="253.4" y2="829.8" stroke="#000" stroke-width="3.0" stroke-dasharray="6.5 3"/>
<text x="257.8" y="835" font-family="'Liberation Sans', sans-serif" font-size="15.5" stroke="#000" stroke-width="0.55">ZAP70+/High Meth (1.1 yrs)</text>
<text x="457" y="835" font-family="'Liberation Sans', sans-serif" font-size="15.5" stroke="#000" stroke-width="0.55">N = 16</text>
<line x1="227.4" y1="851" x2="253.4" y2="851" stroke="#000" stroke-width="3.0"/>
<text x="257.8" y="855.8" font-family="'Liberation Sans', sans-serif" font-size="15.5" stroke="#000" stroke-width="0.55">ZAP70+/Low Meth (2.3 yrs)</text>
<text x="457" y="855.8" font-family="'Liberation Sans', sans-serif" font-size="15.5" stroke="#000" stroke-width="0.55">N = 134</text>
</svg></body></html>
